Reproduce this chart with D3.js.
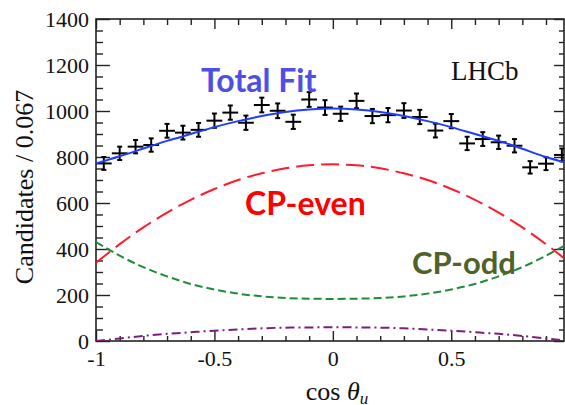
<!DOCTYPE html>
<html>
<head>
<meta charset="utf-8">
<script src="https://cdn.jsdelivr.net/npm/d3@7"></script>
<style>
  body { margin: 0; background: #fff; }
  svg { display: block; }
</style>
</head>
<body>
<div id="graphDiv"></div>
<script>
// data
var binCenters = [-0.967, -0.9, -0.833, -0.767, -0.7, -0.633, -0.567, -0.5, -0.433, -0.367,
                  -0.3, -0.233, -0.167, -0.1, -0.033, 0.033, 0.1, 0.167, 0.233, 0.3,
                  0.367, 0.433, 0.5, 0.567, 0.633, 0.7, 0.767, 0.833, 0.9, 0.967];
var counts = [772, 816, 845, 852, 914, 906, 918, 958, 993, 949,
              1026, 1001, 953, 1050, 1015, 988, 1044, 978, 982, 1002,
              974, 915, 956, 859, 878, 864, 849, 755, 771, 809];
var countErrs = [28, 29, 29, 29, 30, 30, 30, 31, 31, 31,
                 32, 32, 31, 32, 32, 31, 32, 31, 31, 32,
                 31, 30, 31, 29, 30, 29, 29, 27, 28, 28];
var binHalfWidth = 0.0333;

var curveX = [-1, -0.9, -0.8, -0.7, -0.6, -0.5, -0.4, -0.3, -0.2, -0.1, 0,
              0.1, 0.2, 0.3, 0.4, 0.5, 0.6, 0.7, 0.8, 0.9, 0.976];
var totalFit = [772, 803, 837, 870, 900, 930, 956, 978, 996, 1007, 1011,
                1007, 996, 978, 956, 930, 900, 870, 836, 800, 778];
var cpEven = [340, 421, 494, 558, 614, 661, 700, 729, 751, 764, 768,
              764, 751, 729, 700, 661, 614, 558, 494, 421, 360];
var cpOdd = [430, 371, 321, 281, 248, 224, 206, 194, 187, 184, 183,
             184, 187, 194, 206, 224, 248, 281, 321, 371, 414];
var bkg = [0, 11, 22, 31, 38, 45, 50, 55, 58, 59, 60,
           59, 58, 55, 50, 45, 38, 31, 22, 11, 3];

var xMajor = [-1, -0.5, 0, 0.5];
var xMinor = [-0.9, -0.8, -0.7, -0.6, -0.4, -0.3, -0.2, -0.1, 0.1, 0.2, 0.3, 0.4, 0.6, 0.7, 0.8, 0.9];
var yMajor = [0, 200, 400, 600, 800, 1000, 1200, 1400];
var yMinor = [50, 100, 150, 250, 300, 350, 450, 500, 550, 650, 700, 750, 850, 900, 950,
              1050, 1100, 1150, 1250, 1300, 1350];

var margin = {top: 19, right: 1, bottom: 64, left: 96},
    outerWidth = 565,
    outerHeight = 405,
    innerWidth = outerWidth - margin.left - margin.right,
    innerHeight = outerHeight - margin.top - margin.bottom;

var svgRoot = d3.select("#graphDiv").append("svg")
    .attr("width", outerWidth)
    .attr("height", outerHeight);

var svg = svgRoot.append("g")
    .attr("transform", "translate(" + margin.left + "," + margin.top + ")");

var x = d3.scaleLinear().domain([-1, 0.976]).range([0, innerWidth]);
var y = d3.scaleLinear().domain([0, 1400]).range([innerHeight, 0]);

svg.append("clipPath").attr("id", "clip")
  .append("rect").attr("width", innerWidth).attr("height", innerHeight);

var serif = "'Liberation Serif', 'Times New Roman', serif";
var plain = function(d) { return String(d); }; // keep "-0.5" with a hyphen, no thousands comma

// axes: ticks point inward, major + minor
function styleAxis(g) {
  g.select(".domain").remove();
  g.attr("font-family", serif).attr("font-size", 22);
  g.selectAll("line").attr("stroke", "#222").attr("stroke-width", 1.4);
  g.selectAll("text").attr("fill", "#111");
}
function noLabels(g) {
  g.selectAll("text").remove();
}

svg.append("g").attr("transform", "translate(0," + innerHeight + ")")
  .call(d3.axisBottom(x).tickValues(xMajor).tickSize(-10).tickPadding(9).tickFormat(plain))
  .call(styleAxis);
svg.append("g").attr("transform", "translate(0," + innerHeight + ")")
  .call(d3.axisBottom(x).tickValues(xMinor).tickSize(-5))
  .call(styleAxis).call(noLabels);
svg.append("g")
  .call(d3.axisTop(x).tickValues(xMajor).tickSize(-10))
  .call(styleAxis).call(noLabels);
svg.append("g")
  .call(d3.axisTop(x).tickValues(xMinor).tickSize(-6))
  .call(styleAxis).call(noLabels);

svg.append("g")
  .call(d3.axisLeft(y).tickValues(yMajor).tickSize(-14).tickPadding(7).tickFormat(plain))
  .call(styleAxis);
svg.append("g")
  .call(d3.axisLeft(y).tickValues(yMinor).tickSize(-7))
  .call(styleAxis).call(noLabels);
svg.append("g").attr("transform", "translate(" + innerWidth + ",0)")
  .call(d3.axisRight(y).tickValues(yMajor).tickSize(-10))
  .call(styleAxis).call(noLabels);
svg.append("g").attr("transform", "translate(" + innerWidth + ",0)")
  .call(d3.axisRight(y).tickValues(yMinor).tickSize(-5))
  .call(styleAxis).call(noLabels);

// frame
svg.append("rect")
  .attr("width", innerWidth).attr("height", innerHeight)
  .attr("fill", "none").attr("stroke", "#222").attr("stroke-width", 1.6);

// fit components
var plot = svg.append("g").attr("clip-path", "url(#clip)");

function drawCurve(vals, color, dash) {
  var line = d3.line()
    .x(function(d, i) { return x(curveX[i]); })
    .y(function(d) { return y(d); })
    .curve(d3.curveNatural);
  plot.append("path")
    .datum(vals)
    .attr("d", line)
    .attr("fill", "none")
    .attr("stroke", color)
    .attr("stroke-width", 2)
    .attr("stroke-dasharray", dash);
}

drawCurve(bkg, "#7b1f7b", "9,4,2,4");
drawCurve(cpOdd, "#228b3a", "8,4");
drawCurve(cpEven, "#ff1a2e", "18,7");

// data points with error bars
var pts = plot.selectAll(".pt")
  .data(counts)
  .enter().append("g")
  .attr("class", "pt");

pts.append("line")
  .attr("x1", function(d, i) { return x(binCenters[i] - binHalfWidth); })
  .attr("x2", function(d, i) { return x(binCenters[i] + binHalfWidth); })
  .attr("y1", function(d) { return y(d); })
  .attr("y2", function(d) { return y(d); });
pts.append("line")
  .attr("x1", function(d, i) { return x(binCenters[i]); })
  .attr("x2", function(d, i) { return x(binCenters[i]); })
  .attr("y1", function(d, i) { return y(d - countErrs[i]); })
  .attr("y2", function(d, i) { return y(d + countErrs[i]); });
// small end caps
pts.append("line")
  .attr("x1", function(d, i) { return x(binCenters[i]) - 2.5; })
  .attr("x2", function(d, i) { return x(binCenters[i]) + 2.5; })
  .attr("y1", function(d, i) { return y(d + countErrs[i]); })
  .attr("y2", function(d, i) { return y(d + countErrs[i]); });
pts.append("line")
  .attr("x1", function(d, i) { return x(binCenters[i]) - 2.5; })
  .attr("x2", function(d, i) { return x(binCenters[i]) + 2.5; })
  .attr("y1", function(d, i) { return y(d - countErrs[i]); })
  .attr("y2", function(d, i) { return y(d - countErrs[i]); });
pts.selectAll("line").attr("stroke", "#000").attr("stroke-width", 2);

drawCurve(totalFit, "#1f3cff", null);

// labels
svgRoot.append("text")
  .attr("transform", "translate(33," + 187 + ") rotate(-90)")
  .attr("text-anchor", "middle")
  .attr("font-family", serif).attr("font-size", 26).attr("fill", "#111")
  .text("Candidates / 0.067");

var xl = svgRoot.append("text")
  .attr("x", 337).attr("y", 400)
  .attr("text-anchor", "middle")
  .attr("font-family", serif).attr("font-size", 26).attr("fill", "#111");
xl.append("tspan").text("cos ");
xl.append("tspan").attr("font-style", "italic").text("θ");
xl.append("tspan").attr("font-style", "italic").attr("font-size", 17).attr("dy", 4).text("u");

svgRoot.append("text")
  .attr("x", 451).attr("y", 80)
  .attr("font-family", serif).attr("font-size", 27).attr("fill", "#111")
  .text("LHCb");

var sans = "Lato, 'Open Sans', sans-serif";
svgRoot.append("text")
  .attr("x", 201).attr("y", 92)
  .attr("font-family", sans).attr("font-weight", "bold").attr("font-size", 32)
  .attr("fill", "#4f4fe6").text("Total Fit");
svgRoot.append("text")
  .attr("x", 245).attr("y", 215)
  .attr("font-family", sans).attr("font-weight", "bold").attr("font-size", 32)
  .attr("fill", "#ff0000").text("CP-even");
svgRoot.append("text")
  .attr("x", 412).attr("y", 274)
  .attr("font-family", sans).attr("font-weight", "bold").attr("font-size", 31)
  .attr("fill", "#4f6228").text("CP-odd");
</script>
</body>
</html>
